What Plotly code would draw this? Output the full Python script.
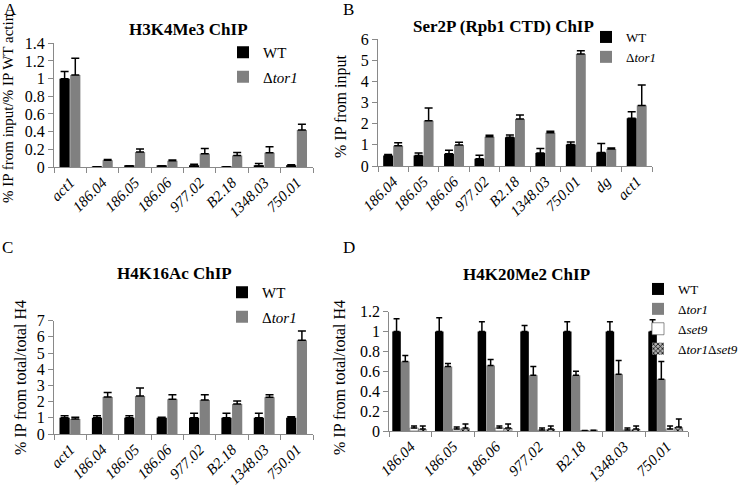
import plotly.graph_objects as go

W, H = 745, 490
MR = 20  # right margin reserved so the last legend never pushes the layout
SERIF = "Liberation Serif, Times New Roman, serif"

# ---------------- Panel A: H3K4Me3 ChIP ----------------
a_cats = ["act1", "186.04", "186.05", "186.06", "977.02", "B2.18", "1348.03", "750.01"]
a_wt = [1.0, 0.003, 0.01, 0.01, 0.01, 0.003, 0.01, 0.01]
a_wt_err = [0.08, 0.0, 0.005, 0.005, 0.02, 0.0, 0.03, 0.015]
a_tor = [1.04, 0.075, 0.17, 0.07, 0.15, 0.13, 0.16, 0.42]
a_tor_err = [0.19, 0.01, 0.035, 0.01, 0.06, 0.035, 0.07, 0.065]

# ---------------- Panel B: Ser2P (Rpb1 CTD) ChIP ----------------
b_cats = ["186.04", "186.05", "186.06", "977.02", "B2.18", "1348.03", "750.01", "dg", "act1"]
b_wt = [0.5, 0.5, 0.58, 0.34, 1.36, 0.62, 1.02, 0.64, 2.26]
b_wt_err = [0.05, 0.12, 0.17, 0.17, 0.11, 0.21, 0.12, 0.43, 0.31]
b_tor = [0.96, 2.14, 0.99, 1.39, 2.22, 1.58, 5.3, 0.8, 2.87]
b_tor_err = [0.14, 0.61, 0.13, 0.07, 0.2, 0.07, 0.16, 0.05, 0.96]

# ---------------- Panel C: H4K16Ac ChIP ----------------
c_cats = ["act1", "186.04", "186.05", "186.06", "977.02", "B2.18", "1348.03", "750.01"]
c_wt = [1.0, 1.0, 1.0, 1.0, 1.0, 1.0, 1.0, 1.0]
c_wt_err = [0.13, 0.13, 0.13, 0.03, 0.28, 0.28, 0.28, 0.07]
c_tor = [0.93, 2.29, 2.35, 2.14, 2.1, 1.85, 2.27, 5.79]
c_tor_err = [0.1, 0.28, 0.49, 0.29, 0.33, 0.19, 0.16, 0.57]

# ---------------- Panel D: H4K20Me2 ChIP ----------------
d_cats = ["186.04", "186.05", "186.06", "977.02", "B2.18", "1348.03", "750.01"]
d_wt = [1.0, 1.0, 1.0, 1.0, 1.0, 1.0, 1.0]
d_wt_err = [0.13, 0.14, 0.1, 0.06, 0.1, 0.1, 0.12]
d_tor = [0.70, 0.65, 0.66, 0.56, 0.56, 0.57, 0.52]
d_tor_err = [0.06, 0.03, 0.06, 0.09, 0.04, 0.14, 0.18]
d_set9 = [0.03, 0.02, 0.03, 0.01, 0.005, 0.01, 0.02]
d_set9_err = [0.02, 0.02, 0.02, 0.02, 0.0, 0.02, 0.03]
d_ts = [0.02, 0.03, 0.03, 0.02, 0.008, 0.02, 0.04]
d_ts_err = [0.03, 0.04, 0.04, 0.03, 0.0, 0.03, 0.08]

WT_COLOR = "#000000"
TOR_COLOR = "#808080"
AXIS_COLOR = "#898989"

PW = W - MR


def px(x):
    return x / PW


def py(y):
    return 1 - y / H


def err(vals, w):
    return dict(type="data", array=vals, arrayminus=[0] * len(vals), symmetric=False,
                color="black", thickness=1.5, width=w, visible=True)


fig = go.Figure()


def add_bar(cats, vals, errs, name, color, ax, legend, width, offset, ew, **marker_extra):
    marker = dict(color=color, line=dict(width=0))
    marker.update(marker_extra)
    fig.add_trace(go.Bar(
        x=cats, y=vals, name=name, marker=marker, width=width, offset=offset,
        error_y=err(errs, ew), xaxis="x" + ax, yaxis="y" + ax, legend=legend,
        legendgroup=legend + name))


# Panel A
add_bar(a_cats, a_wt, a_wt_err, "WT", WT_COLOR, "", "legend", 0.315, -0.33, 4)
add_bar(a_cats, a_tor, a_tor_err, "Δ<i>tor1</i>", TOR_COLOR, "", "legend", 0.315, 0.0, 4)
# Panel B
add_bar(b_cats, b_wt, b_wt_err, "WT", WT_COLOR, "2", "legend2", 0.325, -0.33, 4)
add_bar(b_cats, b_tor, b_tor_err, "Δ<i>tor1</i>", TOR_COLOR, "2", "legend2", 0.325, 0.0, 4)
# Panel C
add_bar(c_cats, c_wt, c_wt_err, "WT", WT_COLOR, "3", "legend3", 0.315, -0.33, 4)
add_bar(c_cats, c_tor, c_tor_err, "Δ<i>tor1</i>", TOR_COLOR, "3", "legend3", 0.315, 0.0, 4)
# Panel D
add_bar(d_cats, d_wt, d_wt_err, "WT", WT_COLOR, "4", "legend4", 0.2, -0.43, 3)
add_bar(d_cats, d_tor, d_tor_err, "Δ<i>tor1</i>", TOR_COLOR, "4", "legend4", 0.2, -0.225, 3)
add_bar(d_cats, d_set9, d_set9_err, "Δ<i>set9</i>", "#ffffff", "4", "legend4", 0.2, -0.02, 3)
fig.data[-1].marker.line = dict(color="#444444", width=0.6)
add_bar(d_cats, d_ts, d_ts_err, "Δ<i>tor1</i>Δ<i>set9</i>", "#5a5a5a", "4", "legend4", 0.2, 0.185, 3,
        pattern=dict(shape="x", fgcolor="#000000", bgcolor="#b0b0b0", size=4, solidity=0.4))

# axes geometry (pixels)
panels = {
    "": dict(x0=54, x1=313, ytop=43.3, ybot=167, rng=[0, 1.4], dtick=0.2),
    "2": dict(x0=378, x1=652, ytop=39.3, ybot=166, rng=[0, 6], dtick=1),
    "3": dict(x0=54, x1=313, ytop=320.7, ybot=434, rng=[0, 7], dtick=1),
    "4": dict(x0=389.3, x1=688, ytop=311.7, ybot=431, rng=[0, 1.2], dtick=0.2),
}

layout = dict(
    template="none",
    width=W, height=H, margin=dict(l=0, r=MR, t=0, b=0, autoexpand=False),
    paper_bgcolor="white", plot_bgcolor="white",
    font=dict(family=SERIF, color="black"),
    barmode="overlay", showlegend=True,
)
for k, p in panels.items():
    layout["xaxis" + k] = dict(
        domain=[px(p["x0"]), px(p["x1"])], anchor="y" + k, type="category", automargin=False,
        showline=True, linecolor=AXIS_COLOR, linewidth=1, showgrid=False, zeroline=False,
        ticks="outside", tickson="boundaries", ticklen=5, tickcolor=AXIS_COLOR,
        tickangle=-45, tickfont=dict(family=SERIF, size=15, style="italic", color="black"),
        fixedrange=True,
    )
    layout["yaxis" + k] = dict(
        domain=[py(p["ybot"]), py(p["ytop"])], anchor="x" + k, range=p["rng"], dtick=p["dtick"],
        automargin=False,
        showline=True, linecolor=AXIS_COLOR, linewidth=1, showgrid=False, zeroline=False,
        ticks="outside", ticklen=5, tickcolor=AXIS_COLOR,
        tickfont=dict(family=SERIF, size=16, color="black"), fixedrange=True,
    )

# legends
legend_specs = {
    "legend": dict(x=223, y=36, size=15, gap=2),
    "legend2": dict(x=586, y=22, size=13, gap=0),
    "legend3": dict(x=222, y=276, size=15, gap=2),
    "legend4": dict(x=638, y=274, size=13, gap=0),
}
for name, s in legend_specs.items():
    layout[name] = dict(x=px(s["x"]), y=py(s["y"]), xanchor="left", yanchor="top",
                        bgcolor="rgba(0,0,0,0)", borderwidth=0, tracegroupgap=s["gap"],
                        font=dict(family=SERIF, size=s["size"], color="black"),
                        itemclick=False, itemdoubleclick=False)

fig.update_layout(**layout)

# titles, panel letters, y-axis titles
texts = [
    ("H3K4Me3 ChIP", 188, 29, 17, True, 0),
    ("Ser2P (Rpb1 CTD) ChIP", 503, 27, 17, True, 0),
    ("H4K16Ac ChIP", 174, 273, 17, True, 0),
    ("H4K20Me2 ChIP", 526, 274, 17, True, 0),
    ("A", 10, 9, 17, False, 0),
    ("B", 348, 9, 17, False, 0),
    ("C", 8, 248, 17, False, 0),
    ("D", 349, 248, 17, False, 0),
    ("% IP from input/% IP WT actin", 8, 108, 15, False, -90),
    ("% IP from input", 341, 106, 16, False, -90),
    ("% IP from total/total H4", 20, 378, 16, False, -90),
    ("% IP from total/total H4", 339, 378, 16, False, -90),
]
for t, x, y, size, bold, ang in texts:
    fig.add_annotation(text=("<b>%s</b>" % t) if bold else t, x=px(x), y=py(y),
                       xref="paper", yref="paper", xanchor="center", yanchor="middle",
                       showarrow=False, textangle=ang,
                       font=dict(family=SERIF, size=size, color="black"))

fig.write_html("out.html", config={"displayModeBar": False},
               post_script="document.body.style.margin='0';document.body.style.padding='0';")
